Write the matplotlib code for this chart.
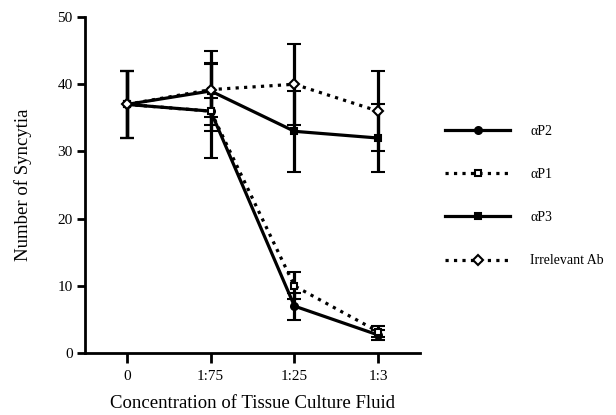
import numpy as np
import matplotlib
matplotlib.use("Agg")
import matplotlib.pyplot as plt

plt.rcParams['font.family'] = ['Liberation Serif', 'DejaVu Serif']

# data
categories = ["0", "1:75", "1:25", "1:3"]
ap2 = [37, 36, 7, 2.7]
ap2_err = [5, 7, 2, 0.8]
ap1 = [37, 36, 10, 3.2]
ap1_err = [5, 2, 2, 0.8]
ap3 = [37, 39, 33, 32]
ap3_err = [5, 6, 6, 5]
irr = [37, 39.2, 40, 36]
irr_err = [5, 4, 6, 6]

series = [
    ("\u03b1P2", ap2, ap2_err, "-", "o", "black"),
    ("\u03b1P1", ap1, ap1_err, ":", "s", "white"),
    ("\u03b1P3", ap3, ap3_err, "-", "s", "black"),
    ("Irrelevant Ab", irr, irr_err, ":", "D", "white"),
]

fig = plt.figure(figsize=(6.16, 4.15), dpi=100)
ax = fig.add_axes([0.138, 0.149, 0.544, 0.81])

x = np.arange(len(categories))
for label, y, err, ls, mk, mfc in series:
    ax.errorbar(x, y, yerr=err, color="black", linestyle=ls, linewidth=2.3,
                marker=mk, markersize=5, markerfacecolor=mfc,
                markeredgecolor="black", markeredgewidth=1.5,
                elinewidth=2.3, capsize=5, capthick=2.3, label=label)

ax.set_xlim(-0.5, 3.5)
ax.set_ylim(0, 50)
ax.set_xticks(x)
ax.set_xticklabels(categories, fontsize=11)
ax.set_yticks([0, 10, 20, 30, 40, 50])
ax.tick_params(axis="y", labelsize=11, width=2, length=6, pad=3)
ax.tick_params(axis="x", width=2, length=7, pad=5)
ax.spines["top"].set_visible(False)
ax.spines["right"].set_visible(False)
ax.spines["left"].set_linewidth(2)
ax.spines["bottom"].set_linewidth(2)
ax.set_xlabel("Concentration of Tissue Culture Fluid", fontsize=13.5, labelpad=9)
ax.set_ylabel("Number of Syncytia", fontsize=13.5, labelpad=18)

handles, labels = ax.get_legend_handles_labels()
handles = [h[0] for h in handles]
ax.legend(handles, labels, loc="center left", bbox_to_anchor=(1.074, 0.467),
          frameon=False, handlelength=4.7, labelspacing=2.17, fontsize=10,
          borderpad=0, borderaxespad=0, handletextpad=1.45)

fig.savefig("out.png", dpi=100)
